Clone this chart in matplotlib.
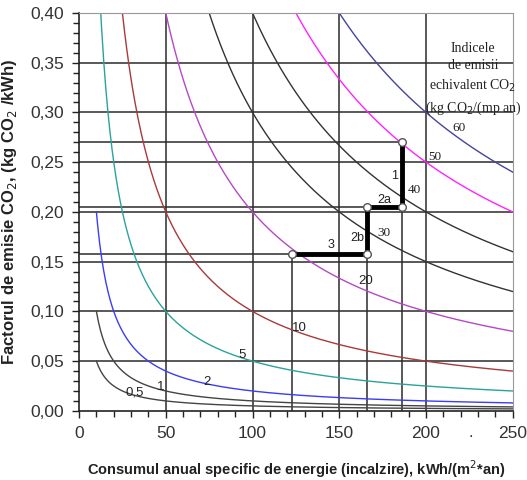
import numpy as np
import matplotlib.pyplot as plt
from matplotlib.ticker import MultipleLocator, FuncFormatter

plt.rcParams['font.family'] = ['Liberation Sans', 'DejaVu Sans']

# emission index curves, kg CO2/(m2 an)
indices = [0.5, 1, 2, 5, 10, 20, 30, 40, 50, 60]
colors = ['#444444', '#444444', '#3c3cf5', '#2aa39a', '#a83a3a',
          '#b548c6', '#333333', '#333333', '#ff22ff', '#45459a']
# label positions (consumption, factor) for each curve
lab_x = [32, 47, 74, 94, 127, 165, 176, 193, 205, 219]
lab_y = [0.018, 0.024, 0.029, 0.056, 0.083, 0.131, 0.179, 0.222, 0.255, 0.284]
lab_txt = ['0,5', '1', '2', '5', '10', '20', '30', '40', '50', '60']
lab_serif = [False, False, False, False, False, False, True, True, True, True]

# retrofit path: steps 3, 2b, 2a, 1
path_x = [123, 166, 166, 186, 186]
path_y = [0.158, 0.158, 0.205, 0.205, 0.270]
step_txt = ['3', '2b', '2a', '1']
step_x = [145.5, 160.5, 176, 182]
step_y = [0.167, 0.174, 0.212, 0.236]

fig = plt.figure(figsize=(5.27, 4.80), dpi=100)
ax = fig.add_axes([0.150, 0.144, 0.823, 0.829])

ax.set_xlim(0, 250)
ax.set_ylim(0, 0.40)

grid_c = '#2b2b2b'
for gx in [50, 100, 150, 200]:
    ax.axvline(gx, color=grid_c, lw=1.1, zorder=1)
for gy in [0.05, 0.10, 0.15, 0.20, 0.25, 0.30, 0.35]:
    ax.axhline(gy, color=grid_c, lw=1.1, zorder=1)

# guide lines for the path points
ax.plot([0, path_x[4]], [path_y[4]] * 2, color=grid_c, lw=1.1, zorder=1)
ax.plot([0, path_x[3]], [path_y[3]] * 2, color=grid_c, lw=1.1, zorder=1)
ax.plot([0, path_x[1]], [path_y[0]] * 2, color=grid_c, lw=1.1, zorder=1)
ax.plot([path_x[0]] * 2, [0, path_y[0]], color=grid_c, lw=1.1, zorder=1)
ax.plot([path_x[1]] * 2, [0, path_y[1]], color=grid_c, lw=1.1, zorder=1)
ax.plot([path_x[3]] * 2, [0, path_y[3]], color=grid_c, lw=1.1, zorder=1)

x = np.linspace(10, 250, 400)
for ind, c in zip(indices, colors):
    ax.plot(x, ind / x, color=c, lw=1.0, zorder=2)

for tx, ty, t, s in zip(lab_x, lab_y, lab_txt, lab_serif):
    fam = 'Liberation Serif' if s else 'Liberation Sans'
    ax.text(tx, ty, t, fontsize=9.5, color='#222222', family=fam,
            ha='center', va='center', zorder=4)

ax.plot(path_x, path_y, color='black', lw=3.5, zorder=3, solid_capstyle='butt')
ax.plot(path_x, path_y, 'o', ms=5.5, mfc='white', mec='#555555', mew=1.0, zorder=4)
for tx, ty, t in zip(step_x, step_y, step_txt):
    ax.text(tx, ty, t, fontsize=9, color='#222222', ha='center', va='center', zorder=4)

ax.text(227, 0.371, 'Indicele\nde emisii\nechivalent CO$_2$\n(kg CO$_2$/(mp an)',
        family='Liberation Serif', fontsize=10, ha='center', va='top',
        linespacing=1.45, color='#222222', zorder=4)

ax.text(226, -0.022, '.', fontsize=12, color='#333333', ha='center', va='center')

for side in ['top', 'right']:
    ax.spines[side].set_color('#999999')
for side in ['left', 'bottom']:
    ax.spines[side].set_color('#222222')
    ax.spines[side].set_linewidth(1.2)

ax.xaxis.set_major_locator(MultipleLocator(50))
ax.xaxis.set_minor_locator(MultipleLocator(10))
ax.yaxis.set_major_locator(MultipleLocator(0.05))
ax.yaxis.set_minor_locator(MultipleLocator(0.01))
ax.yaxis.set_major_formatter(FuncFormatter(lambda v, p: f'{v:.2f}'.replace('.', ',')))
ax.tick_params(which='both', direction='out', color='#222222', width=1.0,
               labelsize=12.5, labelcolor='#333333')
ax.tick_params(which='major', length=5, pad=6)
ax.tick_params(which='minor', length=4)

ax.set_xlabel('Consumul anual specific de energie (incalzire), kWh/(m$^2$*an)',
              fontsize=10.5, fontweight='bold', color='#222222', labelpad=12)
ax.set_ylabel('Factorul de emisie CO$_2$, (kg CO$_2$ /kWh)',
              fontsize=12, fontweight='bold', color='#222222', labelpad=8)

fig.savefig('out.png', dpi=100)
